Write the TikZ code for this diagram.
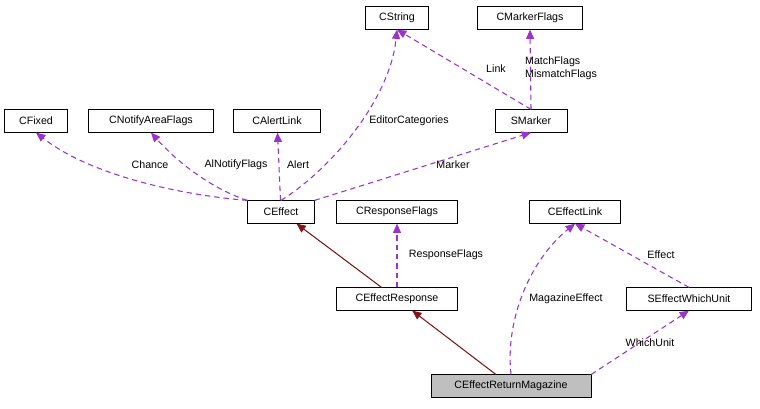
\documentclass[tikz,border=0pt]{standalone}
\usepackage{fontspec}
\setmainfont{Liberation Sans}
\usetikzlibrary{arrows.meta}
\definecolor{usecol}{RGB}{153,51,204}
\definecolor{inhcol}{RGB}{128,24,24}
\tikzset{
  cls/.style={draw, fill=white, font=\fontsize{8}{9}\selectfont, minimum height=17pt, inner xsep=3pt},
  uses/.style={draw=usecol, line width=0.8pt, dash pattern=on 4pt off 3pt, -{Triangle[width=6pt,length=7pt,fill=usecol]}},
  inh/.style={draw=inhcol, line width=0.8pt, -{Triangle[width=6pt,length=7pt,fill=inhcol]}},
  lbl/.style={font=\fontsize{8}{9.5}\selectfont, align=left}
}
\begin{document}
\begin{tikzpicture}[x=0.75pt,y=-0.75pt]
\useasboundingbox (0,0) rectangle (760,409);

\node[cls, minimum width=47pt] (str) at (397,18) {CString};
\node[cls, minimum width=79pt] (mflags) at (530,18) {CMarkerFlags};
\node[cls, minimum width=47pt] (fixed) at (36,121) {CFixed};
\node[cls, minimum width=94pt] (notify) at (151,121) {CNotifyAreaFlags};
\node[cls, minimum width=65pt] (alert) at (277,121) {CAlertLink};
\node[cls, minimum width=54pt] (marker) at (531,121) {SMarker};
\node[cls, minimum width=50pt] (effect) at (281,212) {CEffect};
\node[cls, minimum width=91pt] (rflags) at (397,212) {CResponseFlags};
\node[cls, minimum width=68pt] (elink) at (575,212) {CEffectLink};
\node[cls, minimum width=91pt] (resp) at (397,299) {CEffectResponse};
\node[cls, minimum width=94pt] (which) at (689,299) {SEffectWhichUnit};
\node[cls, minimum width=120pt, fill=black!25] (mag) at (511,386) {CEffectReturnMagazine};

% inheritance
\draw[inh] (resp) -- (effect);
\draw[inh] (mag) -- (resp);

% usage
\draw[uses] (effect.north west) .. controls (180,195) and (90,175) .. (fixed.south);
\draw[uses] (effect.north west) .. controls (215,190) and (180,165) .. (notify.south);
\draw[uses] (effect) -- (alert);
\draw[uses] (effect.north) .. controls (330,170) and (390,100) .. (str.south);
\draw[uses] (effect.north east) -- (marker.south);
\draw[uses] (marker.north) -- (str.south);
\draw[uses] (marker.north) -- (mflags.south);
\draw[uses] (resp) -- (rflags);
\draw[uses] (mag.north) .. controls (505,320) and (530,260) .. (elink.south);
\draw[uses] (which.north) -- (elink.south);
\draw[uses] (mag.north east) -- (which.south);

\node[lbl] (l1) at (150,165) {Chance};
\node[lbl] (l2) at (236,165) {AlNotifyFlags};
\node[lbl] (l3) at (298,165) {Alert};
\node[lbl] (l4) at (409,121) {EditorCategories};
\node[lbl] (l5) at (453,165) {Marker};
\node[lbl] (l6) at (496,69) {Link};
\node[lbl] (l7) at (561,68) {MatchFlags\\MismatchFlags};
\node[lbl] (l8) at (446,255) {ResponseFlags};
\node[lbl] (l9) at (566,299) {MagazineEffect};
\node[lbl] (l10) at (661,255) {Effect};
\node[lbl] (l11) at (650,343) {WhichUnit};
\end{tikzpicture}
\end{document}
